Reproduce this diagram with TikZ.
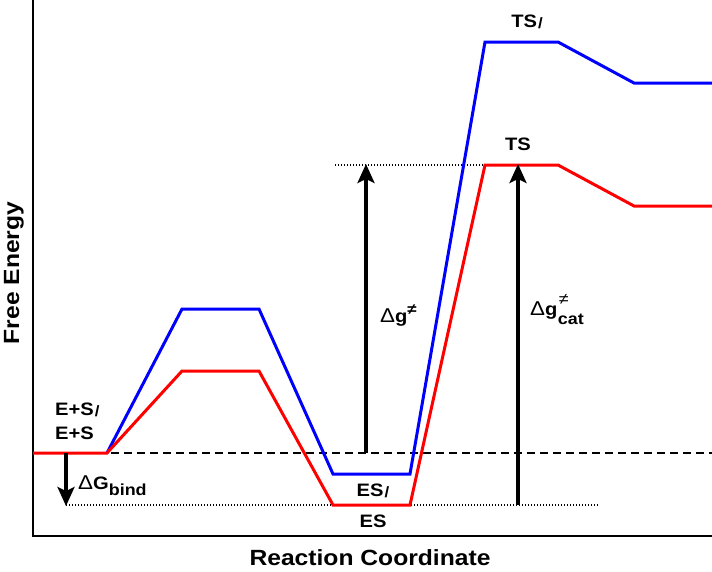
\documentclass[tikz,border=0pt]{standalone}
\usepackage{fontspec}
\setmainfont[FakeStretch=1.12]{Liberation Sans}
\usetikzlibrary{arrows.meta}
\tikzset{
  curve/.style={line width=3pt, line join=miter},
  axisline/.style={line width=1.8pt},
  lbl/.style={font=\fontsize{18}{19}\selectfont\bfseries, inner sep=0pt},
  ttl/.style={font=\fontsize{22}{24}\selectfont\bfseries, inner sep=0pt},
  supsub/.style={font=\fontsize{16}{16}\selectfont\bfseries, inner sep=0pt},
  bigarrow/.style={line width=3.4pt, -{Stealth[length=19pt,width=17pt,inset=4pt]}},
  dotline/.style={line width=1.3pt, dash pattern=on 1.3pt off 1.7pt},
}
\newcommand{\mydelta}{{\mdseries\fontsize{20}{20}\selectfont Δ}}
\newcommand{\myprime}{\kern1pt{\fontsize{15}{15}\selectfont\raisebox{-1pt}{/}}}
\newcommand{\mysup}[1]{\raisebox{8pt}{\fontsize{15}{15}\selectfont #1}}
\newcommand{\mysub}[1]{\raisebox{-6pt}{\fontsize{16}{16}\selectfont #1}}
\begin{document}
\begin{tikzpicture}[x=1pt,y=-1pt]
\useasboundingbox (0,0) rectangle (712,571);
% axes
\coordinate (o) at (33,536);
\coordinate (ytop) at (33,0);
\coordinate (xend) at (712,536);
\draw[axisline] (ytop) -- (o) -- (xend);
% reference lines
\coordinate (d1) at (33,453); \coordinate (d2) at (712,453);
\draw[line width=1.4pt, dash pattern=on 8pt off 5pt] (d1) -- (d2);
\coordinate (p1) at (66,505); \coordinate (p2) at (598,505);
\draw[dotline] (p1) -- (p2);
\coordinate (q1) at (335,165); \coordinate (q2) at (485,165);
\draw[dotline] (q1) -- (q2);
% curves
\draw[curve, blue] (107,453) -- (182,309) -- (259,309) -- (333,474) -- (410,474) -- (485,42) -- (558,42) -- (634,83) -- (712,83);
\draw[curve, red] (33,453) -- (107,453) -- (182,371) -- (259,371) -- (333,505) -- (410,505) -- (485,165) -- (558,165) -- (634,206) -- (712,206);
% arrows
\coordinate (a1s) at (66,453); \coordinate (a1e) at (66,506);
\draw[bigarrow] (a1s) -- (a1e);
\coordinate (a2s) at (366,453); \coordinate (a2e) at (366,164);
\draw[bigarrow] (a2s) -- (a2e);
\coordinate (a3s) at (518,505); \coordinate (a3e) at (518,164);
\draw[bigarrow] (a3s) -- (a3e);
% labels
\node[lbl, anchor=west] (esp) at (55,410) {E+S\myprime};
\node[lbl, anchor=west] (es0) at (55,433) {E+S};
\node[lbl, anchor=west] (dgb) at (78,486) {\mydelta G\mysub{bind}};
\node[lbl] (esq) at (373,491) {ES\myprime};
\node[lbl] (es) at (373,521) {ES};
\node[lbl] (tsp) at (527,22) {TS\myprime};
\node[lbl] (ts) at (518,144) {TS};
\node[lbl, anchor=west] (dg) at (380,316) {\mydelta g\mysup{≠}};
\node[lbl, anchor=west] (dgc) at (530,311) {\mydelta g};
\node[supsub, anchor=south west] (neq) at ([xshift=1pt,yshift=-3pt]dgc.north east) {\mdseries ≠};
\node[supsub, anchor=north west] (cat) at ([xshift=0pt,yshift=6pt]dgc.south east) {cat};
\node[ttl] (xt) at (370,558) {Reaction Coordinate};
\node[ttl, rotate=90] (yt) at (14,273) {Free Energy};
\end{tikzpicture}
\end{document}
